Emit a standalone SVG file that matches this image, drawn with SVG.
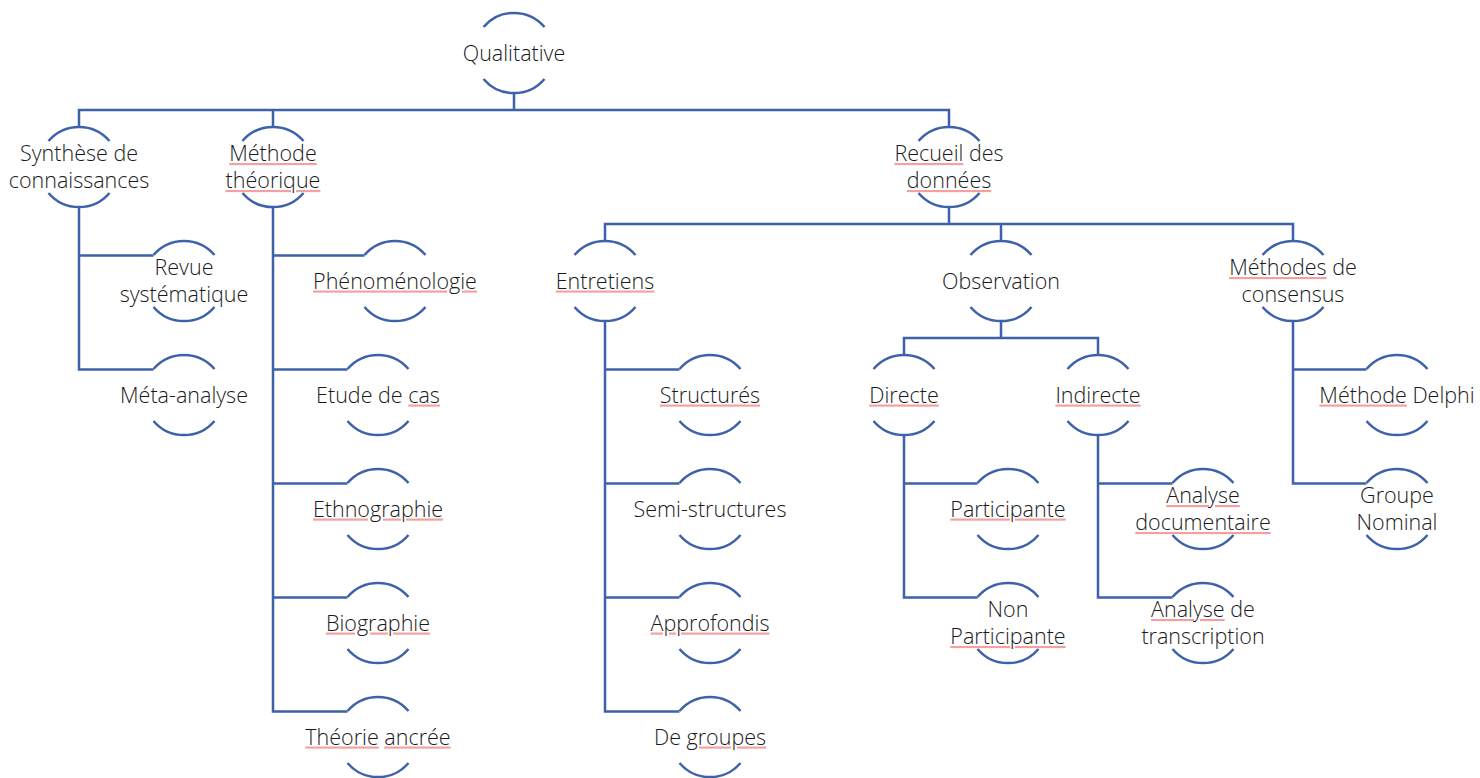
<svg xmlns="http://www.w3.org/2000/svg" xmlns:xlink="http://www.w3.org/1999/xlink" width="1480" height="778" viewBox="0 0 1480 778">
<style>
  .ln { fill: none; stroke: #3D62A9; stroke-width: 2.5; }
  .t { font-family: "Open Sans", "Noto Sans", "DejaVu Sans", sans-serif; font-size: 21.5px; font-weight: 350; fill: #1A1A1A; text-anchor: middle; }
  .sp { text-decoration: underline; fill: #F3A0A0; }
  .w { fill: #1A1A1A; }
</style>
<defs>
  <path id="ring" class="ln" d="M-30.5,-26 A40,40 0 0 1 30.5,-26 M-30.5,26 A40,40 0 0 0 30.5,26"/>
</defs>
<rect width="1480" height="778" fill="#ffffff"/>
<g id="connectors" class="ln">
  <path d="M514,93 V110 M79,127 V110 H949 V127 M273,110 V127"/>
  <path d="M79,207 V369.5 H153.5 M79,255.5 H153.5"/>
  <path d="M273,207 V711.5 H347.5 M273,255.5 H364.5 M273,369.5 H347.5 M273,483.5 H347.5 M273,597.5 H347.5"/>
  <path d="M949,207 V224 M605,241 V224 H1293 V241 M1001,224 V241"/>
  <path d="M605,321 V711.5 H679.5 M605,369.5 H679.5 M605,483.5 H679.5 M605,597.5 H679.5"/>
  <path d="M1001,321 V338 M904,355 V338 H1098 V355"/>
  <path d="M904,435 V597.5 H977.5 M904,483.5 H977.5"/>
  <path d="M1098,435 V597.5 H1172.5 M1098,483.5 H1172.5"/>
  <path d="M1293,321 V483.5 H1366.5 M1293,369.5 H1366.5"/>
</g>
<g id="n-qualitative"><use xlink:href="#ring" x="514" y="53"/><text class="t" x="514" y="60.5">Qualitative</text></g>
<g id="n-synthese"><use xlink:href="#ring" x="79" y="167"/><text class="t" x="79" y="161">Synthèse de</text><text class="t" x="79" y="188">connaissances</text></g>
<g id="n-methode-theorique"><use xlink:href="#ring" x="273" y="167"/><text class="t" x="273" y="161"><tspan class="sp"><tspan class="w">Méthode</tspan></tspan></text><text class="t" x="273" y="188"><tspan class="sp"><tspan class="w">théorique</tspan></tspan></text></g>
<g id="n-recueil"><use xlink:href="#ring" x="949" y="167"/><text class="t" x="949" y="161"><tspan class="sp"><tspan class="w">Recueil</tspan></tspan> des</text><text class="t" x="949" y="188"><tspan class="sp"><tspan class="w">données</tspan></tspan></text></g>
<g id="n-revue"><use xlink:href="#ring" x="184" y="281"/><text class="t" x="184" y="275">Revue</text><text class="t" x="184" y="302">systématique</text></g>
<g id="n-meta"><use xlink:href="#ring" x="184" y="395"/><text class="t" x="184" y="402.5">Méta-analyse</text></g>
<g id="n-phenomenologie"><use xlink:href="#ring" x="395" y="281"/><text class="t" x="395" y="288.5"><tspan class="sp"><tspan class="w">Phénoménologie</tspan></tspan></text></g>
<g id="n-etude"><use xlink:href="#ring" x="378" y="395"/><text class="t" x="378" y="402.5">Etude de <tspan class="sp"><tspan class="w">cas</tspan></tspan></text></g>
<g id="n-ethnographie"><use xlink:href="#ring" x="378" y="509"/><text class="t" x="378" y="516.5"><tspan class="sp"><tspan class="w">Ethnographie</tspan></tspan></text></g>
<g id="n-biographie"><use xlink:href="#ring" x="378" y="623"/><text class="t" x="378" y="630.5"><tspan class="sp"><tspan class="w">Biographie</tspan></tspan></text></g>
<g id="n-theorie"><use xlink:href="#ring" x="378" y="737"/><text class="t" x="378" y="744.5"><tspan class="sp"><tspan class="w">Théorie</tspan></tspan> <tspan class="sp"><tspan class="w">ancrée</tspan></tspan></text></g>
<g id="n-entretiens"><use xlink:href="#ring" x="605" y="281"/><text class="t" x="605" y="288.5"><tspan class="sp"><tspan class="w">Entretiens</tspan></tspan></text></g>
<g id="n-observation"><use xlink:href="#ring" x="1001" y="281"/><text class="t" x="1001" y="288.5">Observation</text></g>
<g id="n-consensus"><use xlink:href="#ring" x="1293" y="281"/><text class="t" x="1293" y="275"><tspan class="sp"><tspan class="w">Méthodes</tspan></tspan> de</text><text class="t" x="1293" y="302">consensus</text></g>
<g id="n-structures"><use xlink:href="#ring" x="710" y="395"/><text class="t" x="710" y="402.5"><tspan class="sp"><tspan class="w">Structurés</tspan></tspan></text></g>
<g id="n-semi"><use xlink:href="#ring" x="710" y="509"/><text class="t" x="710" y="516.5">Semi-structures</text></g>
<g id="n-approfondis"><use xlink:href="#ring" x="710" y="623"/><text class="t" x="710" y="630.5"><tspan class="sp"><tspan class="w">Approfondis</tspan></tspan></text></g>
<g id="n-groupes"><use xlink:href="#ring" x="710" y="737"/><text class="t" x="710" y="744.5">De <tspan class="sp"><tspan class="w">groupes</tspan></tspan></text></g>
<g id="n-directe"><use xlink:href="#ring" x="904" y="395"/><text class="t" x="904" y="402.5"><tspan class="sp"><tspan class="w">Directe</tspan></tspan></text></g>
<g id="n-indirecte"><use xlink:href="#ring" x="1098" y="395"/><text class="t" x="1098" y="402.5"><tspan class="sp"><tspan class="w">Indirecte</tspan></tspan></text></g>
<g id="n-participante"><use xlink:href="#ring" x="1008" y="509"/><text class="t" x="1008" y="516.5"><tspan class="sp"><tspan class="w">Participante</tspan></tspan></text></g>
<g id="n-non-participante"><use xlink:href="#ring" x="1008" y="623"/><text class="t" x="1008" y="617">Non</text><text class="t" x="1008" y="644"><tspan class="sp"><tspan class="w">Participante</tspan></tspan></text></g>
<g id="n-analyse-doc"><use xlink:href="#ring" x="1203" y="509"/><text class="t" x="1203" y="503"><tspan class="sp"><tspan class="w">Analyse</tspan></tspan></text><text class="t" x="1203" y="530"><tspan class="sp"><tspan class="w">documentaire</tspan></tspan></text></g>
<g id="n-analyse-trans"><use xlink:href="#ring" x="1203" y="623"/><text class="t" x="1203" y="617"><tspan class="sp"><tspan class="w">Analyse</tspan></tspan> de</text><text class="t" x="1203" y="644">transcription</text></g>
<g id="n-delphi"><use xlink:href="#ring" x="1397" y="395"/><text class="t" x="1397" y="402.5"><tspan class="sp"><tspan class="w">Méthode</tspan></tspan> Delphi</text></g>
<g id="n-nominal"><use xlink:href="#ring" x="1397" y="509"/><text class="t" x="1397" y="503">Groupe</text><text class="t" x="1397" y="530">Nominal</text></g>
</svg>
